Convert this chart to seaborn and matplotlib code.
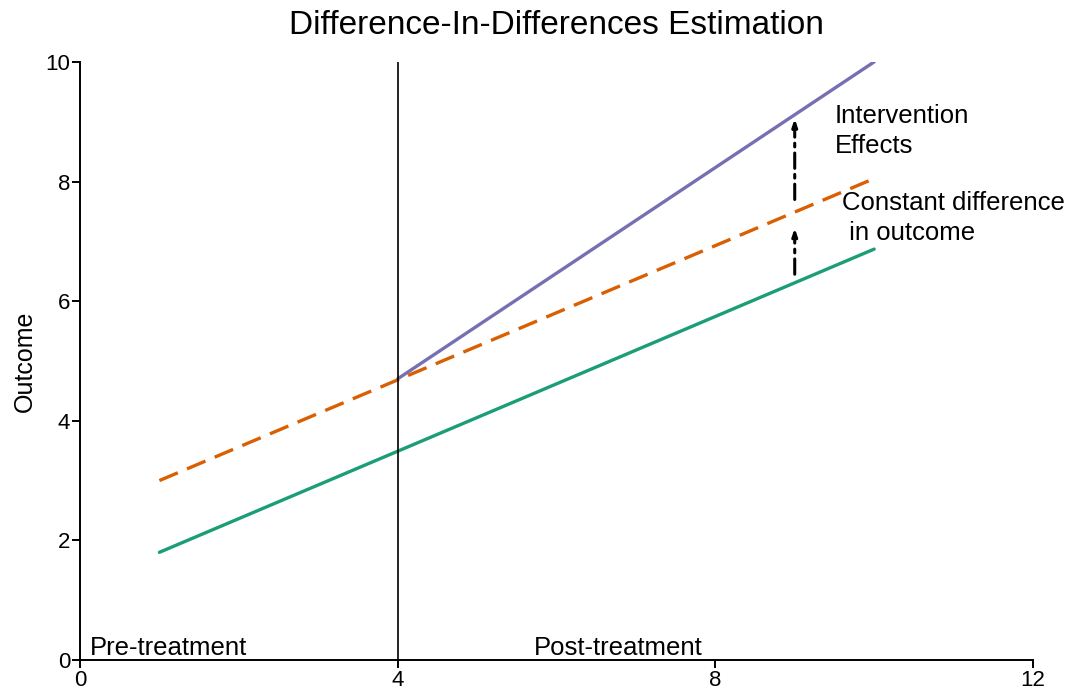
import matplotlib
matplotlib.use("Agg")
import matplotlib.pyplot as plt
import seaborn as sns
import pandas as pd

sns.set_theme(style="ticks")
plt.rcParams['font.family'] = ['Liberation Sans', 'DejaVu Sans']
plt.rcParams.update({"text.color": "black", "axes.labelcolor": "black",
                     "xtick.color": "black", "ytick.color": "black"})

# Data
control_x = [1, 10]
control_y = [1.8, 6.87]
counterfactual_x = [1, 10]
counterfactual_y = [3.0, 8.05]
treated_x = [4, 10]
treated_y = [4.7, 10.0]
intervention_time = 4
arrow_x = 9
arrow_low = [6.45, 7.22]
arrow_high = [7.7, 9.05]

df = pd.concat([
    pd.DataFrame({"time": control_x, "outcome": control_y, "group": "control"}),
    pd.DataFrame({"time": counterfactual_x, "outcome": counterfactual_y, "group": "counterfactual"}),
    pd.DataFrame({"time": treated_x, "outcome": treated_y, "group": "treated"}),
])

palette = {"control": "#1b9e77", "counterfactual": "#d95f02", "treated": "#7570b3"}

fig = plt.figure(figsize=(10.72, 6.91), dpi=100)
ax = fig.add_axes([0.0746, 0.0449, 0.889, 0.8655])

sns.lineplot(data=df[df.group == "control"], x="time", y="outcome", color=palette["control"], lw=2.4, ax=ax)
sns.lineplot(data=df[df.group == "treated"], x="time", y="outcome", color=palette["treated"], lw=2.4, ax=ax)
sns.lineplot(data=df[df.group == "counterfactual"], x="time", y="outcome", color=palette["counterfactual"], lw=2.4,
             ax=ax, linestyle=(0, (6, 3)))

ax.axvline(intervention_time, color="black", lw=1.2)

for lo, hi in [arrow_low, arrow_high]:
    ax.annotate("", xy=(arrow_x, hi), xytext=(arrow_x, lo),
                arrowprops=dict(arrowstyle="-|>,head_length=0.35,head_width=0.12", color="black", lw=2.2,
                                linestyle=(0, (5, 2, 1.2, 2)), shrinkA=0, shrinkB=0))

fs = 18.5
ax.text(9.5, 9.3, "Intervention\nEffects", fontsize=fs, va="top", ha="left", linespacing=1.32)
ax.text(9.6, 7.84, "Constant difference\n in outcome", fontsize=fs, va="top", ha="left", linespacing=1.32)
ax.text(0.12, 0.0, "Pre-treatment", fontsize=fs, va="bottom", ha="left")
ax.text(5.72, 0.0, "Post-treatment", fontsize=fs, va="bottom", ha="left")

ax.set_xlim(0, 12)
ax.set_ylim(0, 10)
ax.set_xticks([0, 4, 8, 12])
ax.set_yticks([0, 2, 4, 6, 8, 10])
ax.margins(0)
ax.tick_params(labelsize=16, length=6, width=1.4, pad=1)
ax.set_xlabel("")
ax.set_ylabel("Outcome", fontsize=18, labelpad=6)
ax.set_title("Difference-In-Differences Estimation", fontsize=24, pad=20)
for s in ["left", "bottom"]:
    ax.spines[s].set_linewidth(1.4)
    ax.spines[s].set_color("black")
sns.despine(ax=ax)

fig.savefig("out.png", dpi=100)
